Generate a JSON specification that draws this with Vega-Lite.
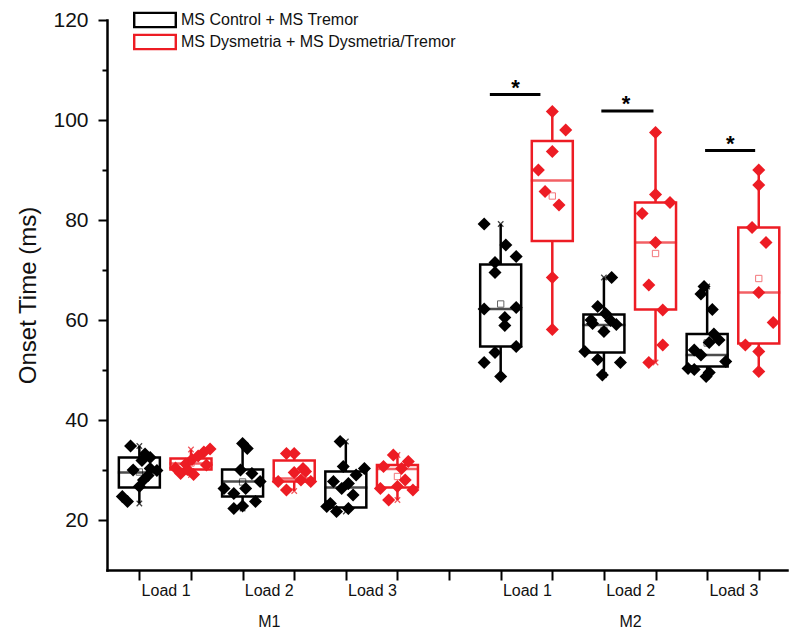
{
  "$schema": "https://vega.github.io/schema/vega-lite/v6.json",
  "width": 680,
  "height": 550,
  "autosize": {"type": "none"},
  "padding": {"left": 107, "top": 20, "right": 13, "bottom": 65},
  "background": "white",
  "config": {
    "view": {"stroke": null},
    "font": "Liberation Sans",
    "axis": {"labelOverlap": false, "labelBound": false, "labelFlush": false, "grid": false},
    "axisX": {"labelOverlap": false}
  },
  "datasets": {
    "boxes": [
      {"pos": 1, "group": "MS Control + MS Tremor", "min": 23.3, "q1": 26.5, "median": 29.5, "q3": 32.5, "max": 34.8, "mean": 29.6},
      {"pos": 2, "group": "MS Dysmetria + MS Dysmetria/Tremor", "min": 29.0, "q1": 30.1, "median": 31.3, "q3": 32.3, "max": 34.1, "mean": 31.4},
      {"pos": 3, "group": "MS Control + MS Tremor", "min": 22.3, "q1": 24.7, "median": 27.7, "q3": 30.1, "max": 35.3, "mean": 27.6},
      {"pos": 4, "group": "MS Dysmetria + MS Dysmetria/Tremor", "min": 25.8, "q1": 27.7, "median": 28.3, "q3": 31.9, "max": 33.3, "mean": 29.4},
      {"pos": 5, "group": "MS Control + MS Tremor", "min": 21.7, "q1": 22.5, "median": 26.5, "q3": 29.7, "max": 35.7, "mean": 26.8},
      {"pos": 6, "group": "MS Dysmetria + MS Dysmetria/Tremor", "min": 24.0, "q1": 26.5, "median": 30.2, "q3": 31.0, "max": 33.0, "mean": 28.7},
      {"pos": 8, "group": "MS Control + MS Tremor", "min": 48.7, "q1": 54.7, "median": 62.2, "q3": 71.1, "max": 79.2, "mean": 63.2},
      {"pos": 9, "group": "MS Dysmetria + MS Dysmetria/Tremor", "min": 58.1, "q1": 75.8, "median": 87.9, "q3": 95.8, "max": 101.7, "mean": 84.8},
      {"pos": 10, "group": "MS Control + MS Tremor", "min": 49.0, "q1": 53.5, "median": 59.0, "q3": 61.1, "max": 68.5, "mean": 57.9},
      {"pos": 11, "group": "MS Dysmetria + MS Dysmetria/Tremor", "min": 51.5, "q1": 62.1, "median": 75.5, "q3": 83.5, "max": 97.5, "mean": 73.3},
      {"pos": 12, "group": "MS Control + MS Tremor", "min": 48.7, "q1": 50.7, "median": 53.0, "q3": 57.2, "max": 66.7, "mean": 55.4},
      {"pos": 13, "group": "MS Dysmetria + MS Dysmetria/Tremor", "min": 49.7, "q1": 55.3, "median": 65.5, "q3": 78.5, "max": 90.0, "mean": 68.3}
    ],
    "points": [
      {"x": 0.83, "value": 34.8, "group": "MS Control + MS Tremor"},
      {"x": 1.11, "value": 33.2, "group": "MS Control + MS Tremor"},
      {"x": 1.21, "value": 32.5, "group": "MS Control + MS Tremor"},
      {"x": 1.05, "value": 31.9, "group": "MS Control + MS Tremor"},
      {"x": 1.21, "value": 30.3, "group": "MS Control + MS Tremor"},
      {"x": 0.88, "value": 30.0, "group": "MS Control + MS Tremor"},
      {"x": 1.34, "value": 29.9, "group": "MS Control + MS Tremor"},
      {"x": 1.17, "value": 28.9, "group": "MS Control + MS Tremor"},
      {"x": 1.08, "value": 28.0, "group": "MS Control + MS Tremor"},
      {"x": 1.0, "value": 26.7, "group": "MS Control + MS Tremor"},
      {"x": 0.67, "value": 24.7, "group": "MS Control + MS Tremor"},
      {"x": 0.77, "value": 23.7, "group": "MS Control + MS Tremor"},
      {"x": 2.37, "value": 34.2, "group": "MS Dysmetria + MS Dysmetria/Tremor"},
      {"x": 2.25, "value": 33.6, "group": "MS Dysmetria + MS Dysmetria/Tremor"},
      {"x": 2.14, "value": 32.8, "group": "MS Dysmetria + MS Dysmetria/Tremor"},
      {"x": 2.02, "value": 32.1, "group": "MS Dysmetria + MS Dysmetria/Tremor"},
      {"x": 1.9, "value": 31.2, "group": "MS Dysmetria + MS Dysmetria/Tremor"},
      {"x": 1.7, "value": 30.4, "group": "MS Dysmetria + MS Dysmetria/Tremor"},
      {"x": 1.8, "value": 29.3, "group": "MS Dysmetria + MS Dysmetria/Tremor"},
      {"x": 2.05, "value": 29.1, "group": "MS Dysmetria + MS Dysmetria/Tremor"},
      {"x": 1.93, "value": 30.1, "group": "MS Dysmetria + MS Dysmetria/Tremor"},
      {"x": 2.3, "value": 31.0, "group": "MS Dysmetria + MS Dysmetria/Tremor"},
      {"x": 3.0, "value": 35.3, "group": "MS Control + MS Tremor"},
      {"x": 3.09, "value": 34.3, "group": "MS Control + MS Tremor"},
      {"x": 2.96, "value": 30.0, "group": "MS Control + MS Tremor"},
      {"x": 3.18, "value": 29.3, "group": "MS Control + MS Tremor"},
      {"x": 3.34, "value": 27.7, "group": "MS Control + MS Tremor"},
      {"x": 2.64, "value": 26.3, "group": "MS Control + MS Tremor"},
      {"x": 3.06, "value": 26.3, "group": "MS Control + MS Tremor"},
      {"x": 2.83, "value": 25.3, "group": "MS Control + MS Tremor"},
      {"x": 3.25, "value": 23.7, "group": "MS Control + MS Tremor"},
      {"x": 3.0, "value": 22.8, "group": "MS Control + MS Tremor"},
      {"x": 2.83, "value": 22.3, "group": "MS Control + MS Tremor"},
      {"x": 3.85, "value": 33.3, "group": "MS Dysmetria + MS Dysmetria/Tremor"},
      {"x": 4.0, "value": 33.3, "group": "MS Dysmetria + MS Dysmetria/Tremor"},
      {"x": 4.17, "value": 30.3, "group": "MS Dysmetria + MS Dysmetria/Tremor"},
      {"x": 4.0, "value": 29.5, "group": "MS Dysmetria + MS Dysmetria/Tremor"},
      {"x": 3.69, "value": 27.7, "group": "MS Dysmetria + MS Dysmetria/Tremor"},
      {"x": 4.32, "value": 27.7, "group": "MS Dysmetria + MS Dysmetria/Tremor"},
      {"x": 3.85, "value": 26.0, "group": "MS Dysmetria + MS Dysmetria/Tremor"},
      {"x": 4.13, "value": 28.0, "group": "MS Dysmetria + MS Dysmetria/Tremor"},
      {"x": 4.22, "value": 29.7, "group": "MS Dysmetria + MS Dysmetria/Tremor"},
      {"x": 4.89, "value": 35.7, "group": "MS Control + MS Tremor"},
      {"x": 4.95, "value": 30.7, "group": "MS Control + MS Tremor"},
      {"x": 5.36, "value": 30.3, "group": "MS Control + MS Tremor"},
      {"x": 5.2, "value": 29.0, "group": "MS Control + MS Tremor"},
      {"x": 4.76, "value": 27.7, "group": "MS Control + MS Tremor"},
      {"x": 5.05, "value": 27.3, "group": "MS Control + MS Tremor"},
      {"x": 4.92, "value": 26.3, "group": "MS Control + MS Tremor"},
      {"x": 5.14, "value": 25.0, "group": "MS Control + MS Tremor"},
      {"x": 4.7, "value": 23.3, "group": "MS Control + MS Tremor"},
      {"x": 4.63, "value": 22.7, "group": "MS Control + MS Tremor"},
      {"x": 5.05, "value": 22.3, "group": "MS Control + MS Tremor"},
      {"x": 4.82, "value": 21.7, "group": "MS Control + MS Tremor"},
      {"x": 5.92, "value": 33.0, "group": "MS Dysmetria + MS Dysmetria/Tremor"},
      {"x": 6.21, "value": 31.7, "group": "MS Dysmetria + MS Dysmetria/Tremor"},
      {"x": 5.73, "value": 30.7, "group": "MS Dysmetria + MS Dysmetria/Tremor"},
      {"x": 6.08, "value": 30.3, "group": "MS Dysmetria + MS Dysmetria/Tremor"},
      {"x": 6.0, "value": 26.7, "group": "MS Dysmetria + MS Dysmetria/Tremor"},
      {"x": 5.67, "value": 26.3, "group": "MS Dysmetria + MS Dysmetria/Tremor"},
      {"x": 6.3, "value": 26.0, "group": "MS Dysmetria + MS Dysmetria/Tremor"},
      {"x": 5.83, "value": 24.0, "group": "MS Dysmetria + MS Dysmetria/Tremor"},
      {"x": 6.15, "value": 28.0, "group": "MS Dysmetria + MS Dysmetria/Tremor"},
      {"x": 7.68, "value": 79.2, "group": "MS Control + MS Tremor"},
      {"x": 8.1, "value": 75.0, "group": "MS Control + MS Tremor"},
      {"x": 8.3, "value": 72.7, "group": "MS Control + MS Tremor"},
      {"x": 7.89, "value": 71.5, "group": "MS Control + MS Tremor"},
      {"x": 7.89, "value": 69.5, "group": "MS Control + MS Tremor"},
      {"x": 7.68, "value": 62.2, "group": "MS Control + MS Tremor"},
      {"x": 8.3, "value": 62.5, "group": "MS Control + MS Tremor"},
      {"x": 8.08, "value": 60.5, "group": "MS Control + MS Tremor"},
      {"x": 8.08, "value": 58.9, "group": "MS Control + MS Tremor"},
      {"x": 7.89, "value": 53.5, "group": "MS Control + MS Tremor"},
      {"x": 8.3, "value": 54.7, "group": "MS Control + MS Tremor"},
      {"x": 7.68, "value": 51.5, "group": "MS Control + MS Tremor"},
      {"x": 8.0, "value": 48.7, "group": "MS Control + MS Tremor"},
      {"x": 9.0, "value": 101.7, "group": "MS Dysmetria + MS Dysmetria/Tremor"},
      {"x": 9.26, "value": 98.0, "group": "MS Dysmetria + MS Dysmetria/Tremor"},
      {"x": 9.0, "value": 93.7, "group": "MS Dysmetria + MS Dysmetria/Tremor"},
      {"x": 8.73, "value": 90.0, "group": "MS Dysmetria + MS Dysmetria/Tremor"},
      {"x": 8.86, "value": 85.7, "group": "MS Dysmetria + MS Dysmetria/Tremor"},
      {"x": 9.13, "value": 83.0, "group": "MS Dysmetria + MS Dysmetria/Tremor"},
      {"x": 9.0, "value": 68.5, "group": "MS Dysmetria + MS Dysmetria/Tremor"},
      {"x": 9.0, "value": 58.1, "group": "MS Dysmetria + MS Dysmetria/Tremor"},
      {"x": 10.15, "value": 68.5, "group": "MS Control + MS Tremor"},
      {"x": 9.88, "value": 62.7, "group": "MS Control + MS Tremor"},
      {"x": 10.03, "value": 61.3, "group": "MS Control + MS Tremor"},
      {"x": 9.75, "value": 60.0, "group": "MS Control + MS Tremor"},
      {"x": 10.13, "value": 59.9, "group": "MS Control + MS Tremor"},
      {"x": 9.78, "value": 59.3, "group": "MS Control + MS Tremor"},
      {"x": 10.24, "value": 59.1, "group": "MS Control + MS Tremor"},
      {"x": 10.0, "value": 57.7, "group": "MS Control + MS Tremor"},
      {"x": 9.63, "value": 53.7, "group": "MS Control + MS Tremor"},
      {"x": 9.88, "value": 52.1, "group": "MS Control + MS Tremor"},
      {"x": 10.32, "value": 51.5, "group": "MS Control + MS Tremor"},
      {"x": 9.97, "value": 49.0, "group": "MS Control + MS Tremor"},
      {"x": 11.0, "value": 97.5, "group": "MS Dysmetria + MS Dysmetria/Tremor"},
      {"x": 11.0, "value": 85.1, "group": "MS Dysmetria + MS Dysmetria/Tremor"},
      {"x": 11.28, "value": 83.5, "group": "MS Dysmetria + MS Dysmetria/Tremor"},
      {"x": 10.74, "value": 81.3, "group": "MS Dysmetria + MS Dysmetria/Tremor"},
      {"x": 11.0, "value": 75.5, "group": "MS Dysmetria + MS Dysmetria/Tremor"},
      {"x": 10.87, "value": 67.0, "group": "MS Dysmetria + MS Dysmetria/Tremor"},
      {"x": 11.14, "value": 62.0, "group": "MS Dysmetria + MS Dysmetria/Tremor"},
      {"x": 11.14, "value": 55.0, "group": "MS Dysmetria + MS Dysmetria/Tremor"},
      {"x": 10.87, "value": 51.5, "group": "MS Dysmetria + MS Dysmetria/Tremor"},
      {"x": 11.94, "value": 66.7, "group": "MS Control + MS Tremor"},
      {"x": 11.88, "value": 65.2, "group": "MS Control + MS Tremor"},
      {"x": 12.1, "value": 62.1, "group": "MS Control + MS Tremor"},
      {"x": 12.13, "value": 57.2, "group": "MS Control + MS Tremor"},
      {"x": 12.23, "value": 56.0, "group": "MS Control + MS Tremor"},
      {"x": 12.04, "value": 55.5, "group": "MS Control + MS Tremor"},
      {"x": 11.88, "value": 53.0, "group": "MS Control + MS Tremor"},
      {"x": 12.36, "value": 51.7, "group": "MS Control + MS Tremor"},
      {"x": 11.63, "value": 50.3, "group": "MS Control + MS Tremor"},
      {"x": 11.75, "value": 50.1, "group": "MS Control + MS Tremor"},
      {"x": 11.98, "value": 48.7, "group": "MS Control + MS Tremor"},
      {"x": 12.04, "value": 49.5, "group": "MS Control + MS Tremor"},
      {"x": 11.75, "value": 54.0, "group": "MS Control + MS Tremor"},
      {"x": 13.0, "value": 90.0, "group": "MS Dysmetria + MS Dysmetria/Tremor"},
      {"x": 13.0, "value": 87.0, "group": "MS Dysmetria + MS Dysmetria/Tremor"},
      {"x": 12.87, "value": 78.5, "group": "MS Dysmetria + MS Dysmetria/Tremor"},
      {"x": 13.14, "value": 75.5, "group": "MS Dysmetria + MS Dysmetria/Tremor"},
      {"x": 13.0, "value": 65.5, "group": "MS Dysmetria + MS Dysmetria/Tremor"},
      {"x": 13.28, "value": 59.5, "group": "MS Dysmetria + MS Dysmetria/Tremor"},
      {"x": 12.74, "value": 55.0, "group": "MS Dysmetria + MS Dysmetria/Tremor"},
      {"x": 13.0, "value": 53.7, "group": "MS Dysmetria + MS Dysmetria/Tremor"},
      {"x": 13.0, "value": 49.7, "group": "MS Dysmetria + MS Dysmetria/Tremor"}
    ],
    "sig": [
      {"x1": 7.79, "x2": 8.77, "xs": 8.29, "y": 105.1, "label": "*"},
      {"x1": 9.95, "x2": 10.96, "xs": 10.43, "y": 101.8, "label": "*"},
      {"x1": 11.96, "x2": 12.93, "xs": 12.45, "y": 93.9, "label": "*"}
    ]
  },
  "layer": [
    {
      "data": {"name": "boxes"},
      "mark": {"type": "rule", "strokeWidth": 2.5},
      "encoding": {
        "x": {
          "field": "pos", "type": "quantitative",
          "scale": {"domain": [0.47, 13.45], "nice": false, "zero": false},
          "axis": {
            "title": null,
            "values": [1, 2, 3, 4, 5, 6, 7, 8, 9, 10, 11, 12, 13],
            "labelExpr": "datum.value == 1 || datum.value == 8 ? 'Load 1' : datum.value == 3 ? ['Load 2', 'M1'] : datum.value == 10 ? ['Load 2', 'M2'] : (datum.value == 5 || datum.value == 12) ? 'Load 3' : ''",
            "labelOverlap": false,
            "labelBound": false,
            "labelFlush": false,
            "labelOffset": 26.2,
            "labelFont": "Liberation Sans",
            "labelFontSize": 16,
            "labelColor": "#111111",
            "labelLineHeight": 31,
            "labelPadding": 2,
            "domainColor": "black",
            "domainWidth": 2.5,
            "domainCap": "square",
            "tickColor": "black",
            "tickWidth": 2,
            "tickSize": 10,
            "grid": false
          }
        },
        "y": {
          "field": "min", "type": "quantitative",
          "scale": {"domain": [10, 120], "nice": false, "zero": false},
          "axis": {
            "title": "Onset Time (ms)",
            "titleFont": "Liberation Sans",
            "titleFontSize": 24,
            "titleFontWeight": "normal",
            "titleColor": "#111111",
            "titlePadding": 12,
            "values": [20, 30, 40, 50, 60, 70, 80, 90, 100, 110, 120],
            "labelExpr": "datum.value % 20 == 0 ? datum.label : ''",
            "labelFont": "Liberation Sans",
            "labelFontSize": 21,
            "labelColor": "#111111",
            "labelPadding": 10,
            "domainColor": "black",
            "domainWidth": 2.5,
            "domainCap": "square",
            "tickColor": "black",
            "tickWidth": 2,
            "tickSize": {"condition": {"test": "datum.value % 20 == 0", "value": 9}, "value": 5},
            "grid": false
          }
        },
        "y2": {"field": "q1"},
        "color": {
          "field": "group", "type": "nominal",
          "scale": {"domain": ["MS Control + MS Tremor", "MS Dysmetria + MS Dysmetria/Tremor"], "range": ["#000000", "#ed1c24"]},
          "legend": {
            "title": null,
            "orient": "none",
            "legendX": 26,
            "legendY": -9,
            "symbolType": "M-1,-0.38H1V0.38H-1Z M-0.89,-0.27V0.27H0.89V-0.27Z",
            "symbolSize": 1936,
            "symbolStrokeWidth": 0,
            "labelFont": "Liberation Sans",
            "labelFontSize": 16,
            "labelColor": "#111111",
            "labelOffset": 4,
            "labelLimit": 400,
            "rowPadding": 4,
            "clipHeight": 18
          }
        }
      }
    },
    {
      "data": {"name": "boxes"},
      "mark": {"type": "rule", "strokeWidth": 2.5},
      "encoding": {
        "x": {"field": "pos", "type": "quantitative"},
        "y": {"field": "q3", "type": "quantitative"},
        "y2": {"field": "max"},
        "color": {"field": "group", "type": "nominal"}
      }
    },
    {
      "data": {"name": "boxes"},
      "mark": {"type": "bar", "width": 41, "filled": false, "strokeWidth": 2.5},
      "encoding": {
        "x": {"field": "pos", "type": "quantitative"},
        "y": {"field": "q1", "type": "quantitative"},
        "y2": {"field": "q3"},
        "color": {"field": "group", "type": "nominal"}
      }
    },
    {
      "data": {"name": "boxes"},
      "mark": {"type": "tick", "orient": "horizontal", "size": 43, "thickness": 2.5},
      "encoding": {
        "x": {"field": "pos", "type": "quantitative"},
        "y": {"field": "median", "type": "quantitative"},
        "color": {"field": "group", "type": "nominal"}
      }
    },
    {
      "data": {"name": "boxes"},
      "mark": {"type": "point", "shape": "M-1,-1L1,1M-1,1L1,-1", "filled": false, "size": 30, "strokeWidth": 1.2, "opacity": 0.75},
      "encoding": {
        "x": {"field": "pos", "type": "quantitative"},
        "y": {"field": "max", "type": "quantitative"},
        "color": {"field": "group", "type": "nominal"}
      }
    },
    {
      "data": {"name": "boxes"},
      "mark": {"type": "point", "shape": "M-1,-1L1,1M-1,1L1,-1", "filled": false, "size": 30, "strokeWidth": 1.2, "opacity": 0.75},
      "encoding": {
        "x": {"field": "pos", "type": "quantitative"},
        "y": {"field": "min", "type": "quantitative"},
        "color": {"field": "group", "type": "nominal"}
      }
    },
    {
      "data": {"name": "points"},
      "mark": {"type": "point", "shape": "diamond", "filled": true, "size": 170, "opacity": 1},
      "encoding": {
        "x": {"field": "x", "type": "quantitative"},
        "y": {"field": "value", "type": "quantitative"},
        "color": {"field": "group", "type": "nominal"}
      }
    },
    {
      "data": {"name": "boxes"},
      "mark": {"type": "point", "shape": "square", "filled": false, "size": 40, "strokeWidth": 1, "opacity": 0.6},
      "encoding": {
        "x": {"field": "pos", "type": "quantitative"},
        "y": {"field": "mean", "type": "quantitative"},
        "color": {"field": "group", "type": "nominal"}
      }
    },
    {
      "data": {"name": "sig"},
      "mark": {"type": "rule", "strokeWidth": 3, "color": "black"},
      "encoding": {
        "x": {"field": "x1", "type": "quantitative"},
        "x2": {"field": "x2"},
        "y": {"field": "y", "type": "quantitative"}
      }
    },
    {
      "data": {"name": "sig"},
      "mark": {"type": "text", "fontSize": 22, "fontWeight": "bold", "baseline": "alphabetic", "align": "center", "font": "Liberation Sans", "color": "black"},
      "encoding": {
        "x": {"field": "xs", "type": "quantitative"},
        "y": {"field": "y", "type": "quantitative"},
        "text": {"field": "label"}
      }
    }
  ]
}
